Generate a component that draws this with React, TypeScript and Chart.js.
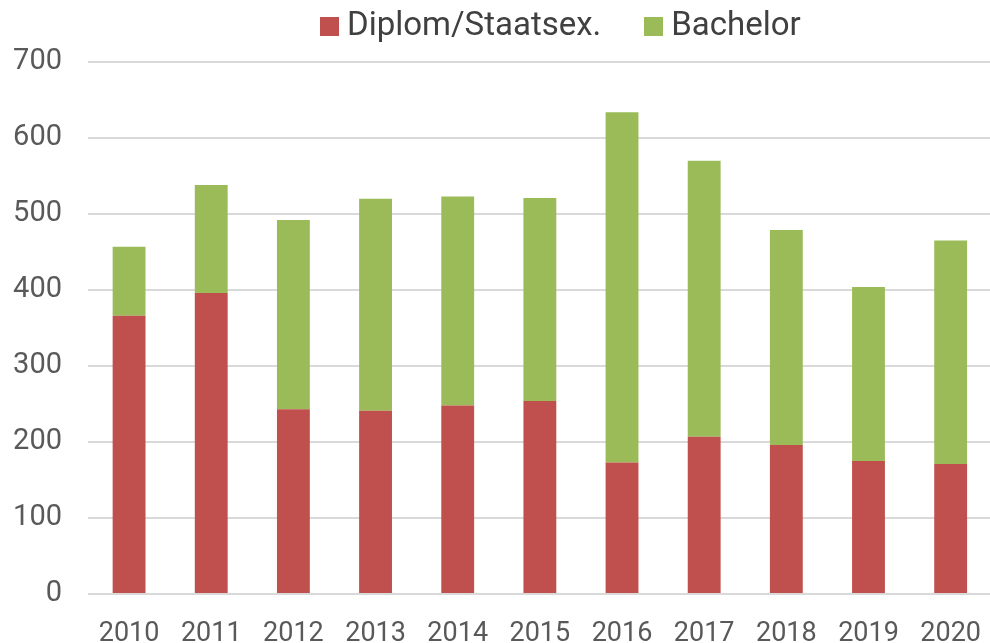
import React, { useEffect, useRef } from "react";
import { Chart, registerables } from "chart.js";
Chart.register(...registerables);

const years = ["2010", "2011", "2012", "2013", "2014", "2015", "2016", "2017", "2018", "2019", "2020"];
const diplom = [366, 396, 243, 241, 248, 254, 173, 207, 196, 175, 171];
const bachelor = [91, 142, 249, 279, 275, 267, 461, 363, 283, 229, 294];
const seriesNames = ["Diplom/Staatsex.", "Bachelor"];
const seriesColors = ["#c0504d", "#9bbb59"];
const yMin = 0;
const yMax = 700;
const yStep = 100;

const FONT = "Roboto, 'Noto Sans', sans-serif";

export default function App() {
  const ref = useRef<HTMLCanvasElement | null>(null);
  useEffect(() => {
    if (!ref.current) return;
    const chart = new Chart(ref.current, {
      type: "bar",
      data: {
        labels: years,
        datasets: [
          { label: seriesNames[0], data: diplom, backgroundColor: seriesColors[0], borderWidth: 0 },
          { label: seriesNames[1], data: bachelor, backgroundColor: seriesColors[1], borderWidth: 0 },
        ],
      },
      options: {
        responsive: false,
        maintainAspectRatio: false,
        animation: false,
        layout: { padding: { top: 62, right: 0, left: 0, bottom: 0 } },
        datasets: { bar: { categoryPercentage: 0.8, barPercentage: 0.5 } },
        plugins: { legend: { display: false }, tooltip: { enabled: false } },
        scales: {
          x: {
            stacked: true,
            grid: { display: false },
            border: { display: false },
            ticks: { color: "#595959", font: { family: FONT, size: 27 }, padding: 16, maxRotation: 0, autoSkip: false },
            afterFit: (s: any) => { s.height = 49; },
          },
          y: {
            stacked: true,
            min: yMin,
            max: yMax,
            grid: { color: "#d9d9d9", lineWidth: 2, drawTicks: false },
            border: { display: false },
            ticks: { stepSize: yStep, color: "#595959", font: { family: FONT, size: 29 }, padding: 26 },
            afterFit: (s: any) => { s.width = 88; },
          },
        },
      },
    });
    return () => chart.destroy();
  }, []);
  return (
    <div style={{ position: "absolute", left: 0, top: 0, width: 990, height: 643, overflow: "hidden", background: "#fff" }}>
      <canvas ref={ref} width={997} height={643} style={{ position: "absolute", left: 0, top: 0 }} />
      <div style={{ position: "absolute", top: 4, left: 320, display: "flex", alignItems: "center", fontFamily: FONT, fontSize: 33, color: "#404040", whiteSpace: "nowrap" }}>
        {seriesNames.map((n, i) => (
          <div key={n} style={{ display: "flex", alignItems: "center", marginRight: i === 0 ? 43 : 0 }}>
            <span style={{ display: "inline-block", width: 19, height: 19, background: seriesColors[i], marginRight: 8, position: "relative", top: 3 }} />
            <span>{n}</span>
          </div>
        ))}
      </div>
    </div>
  );
}
